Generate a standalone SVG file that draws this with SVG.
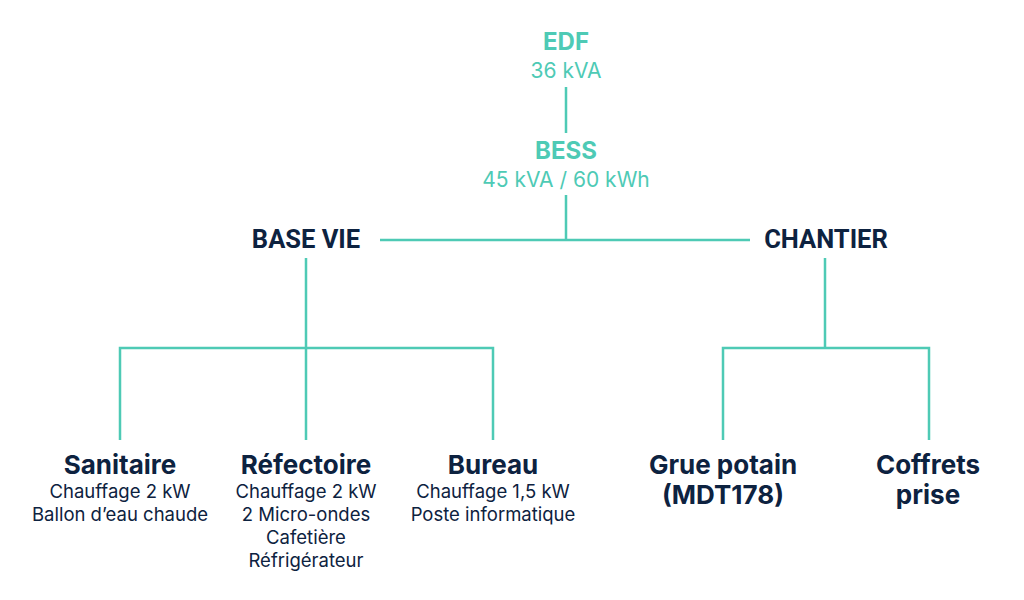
<svg xmlns="http://www.w3.org/2000/svg" width="1024" height="600" viewBox="0 0 1024 600">
<style>
.t{font-family:Inter,"Noto Sans",sans-serif;text-anchor:middle}
.teal{fill:#4ecab5}
.dark{fill:#0d2240}
.h{font-weight:700;font-size:24px}
.s{font-size:21px}
.hb{font-family:Roboto,"Liberation Sans",sans-serif;font-weight:700;font-size:25.5px;text-anchor:middle}
.lh{font-weight:700;font-size:26px}
.ls{font-size:18.5px}
.c{stroke:#4ecab5;stroke-width:2.5;fill:none}
</style>
<rect width="1024" height="600" fill="#fff"/>
<g id="connectors">
<path class="c" d="M566 87V133M566 195V240M380 240H750M306 258V440M120 440V348H493V440M825 258V348M723 440V348H929V440"/>
</g>
<g id="edf" class="t teal"><text class="h" x="566" y="50">EDF</text><text class="s" x="566" y="78">36 kVA</text></g>
<g id="bess" class="t teal"><text class="h" x="566" y="159">BESS</text><text class="s" x="566" y="187">45 kVA / 60 kWh</text></g>
<g id="basevie"><text class="hb dark" x="306" y="248">BASE VIE</text></g>
<g id="chantier"><text class="hb dark" x="826" y="248">CHANTIER</text></g>
<g id="sanitaire" class="t dark"><text class="lh" x="120" y="474">Sanitaire</text><text class="ls" x="120" y="498">Chauffage 2 kW</text><text class="ls" x="120" y="521">Ballon d’eau chaude</text></g>
<g id="refectoire" class="t dark"><text class="lh" x="306" y="474">Réfectoire</text><text class="ls" x="306" y="498">Chauffage 2 kW</text><text class="ls" x="306" y="521">2 Micro-ondes</text><text class="ls" x="306" y="544">Cafetière</text><text class="ls" x="306" y="567">Réfrigérateur</text></g>
<g id="bureau" class="t dark"><text class="lh" x="493" y="474">Bureau</text><text class="ls" x="493" y="498">Chauffage 1,5 kW</text><text class="ls" x="493" y="521">Poste informatique</text></g>
<g id="grue" class="t dark"><text class="lh" x="723" y="474">Grue potain</text><text class="lh" x="723" y="504">(MDT178)</text></g>
<g id="coffrets" class="t dark"><text class="lh" x="928" y="474">Coffrets</text><text class="lh" x="928" y="504">prise</text></g>
</svg>
